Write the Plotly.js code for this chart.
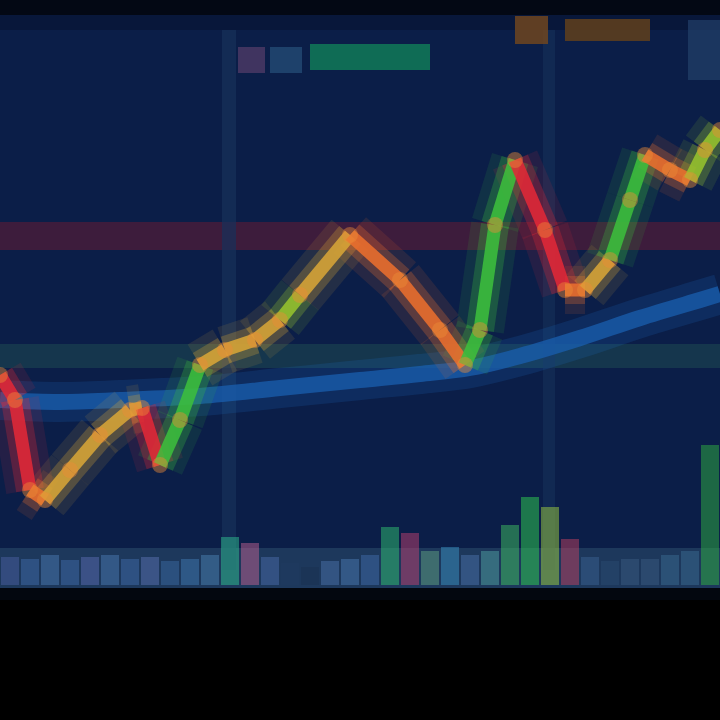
<!DOCTYPE html>
<html><head><meta charset="utf-8">
<script src="https://cdn.plot.ly/plotly-3.0.1.min.js"></script>
<style>html,body{margin:0;padding:0;background:#000;}#chart{width:720px;height:720px;}</style>
</head><body><div id="chart"></div>
<script>
// Price line (time index, price)
const priceT = [0,15,30,45,70,100,130,142,160,180,200,225,255,280,300,350,400,440,465,480,495,515,545,565,585,610,630,645,670,690,705,720];
const priceV = [345,320,230,220,250,285,310,312,255,300,355,370,380,400,425,485,440,390,355,390,495,560,490,430,430,460,520,565,550,540,570,590];
// Moving average
const maT = [0,60,120,200,280,360,420,470,520,580,640,700,720];
const maV = [320,318,320,324,332,340,346,352,364,382,402,420,426];
// Volume
const volT = [10,30,50,70,90,110,130,150,170,190,210,230,250,270,290,310,330,350,370,390,410,430,450,470,490,510,530,550,570,590,610,630,650,670,690,710];
const volV = [28,26,30,25,28,30,26,28,24,26,30,48,42,28,22,18,24,26,30,58,52,34,38,30,34,60,88,78,46,28,24,26,26,30,34,140];
const volC = ['#4a5ea0','#3f6aa8','#4a78b0','#3f6aa8','#5a6ab0','#4a78b0','#3f6aa8','#5a70b0','#3a68a0','#3f78b0','#4a80b0','#30c090','#c06090','#4a6aa8','#203a60','#1a3050','#4a70a8','#4a78b0','#3f6aa8','#30c070','#c04070','#60a080','#3a90c0','#4a70a8','#50a0a0','#40c060','#30d050','#a0d040','#c04060','#3a6090','#2a4a70','#3a5a80','#3a5a80','#3a6a90','#3a6a90','#30b040'];

const traces = [];
// volume bars
traces.push({type:'bar', x:volT, y:volV, base:135, width:18,
  marker:{color:volC, opacity:0.5, line:{width:0}}, hoverinfo:'skip', showlegend:false});
// moving average glow + core
traces.push({type:'scatter', mode:'lines', x:maT, y:maV, line:{color:'rgba(30,110,200,0.18)', width:40, shape:'spline'}, hoverinfo:'skip', showlegend:false});
traces.push({type:'scatter', mode:'lines', x:maT, y:maV, line:{color:'rgba(25,95,175,0.75)', width:16, shape:'spline'}, hoverinfo:'skip', showlegend:false});

function segColor(dx, dy, a){
  const s = dy/dx;
  if (s > 2) return 'rgba(60,190,60,'+a+')';
  if (s > 1.2) return 'rgba(150,195,45,'+a+')';
  if (s > 0) return 'rgba(215,165,55,'+a+')';
  if (s > -1.6) return 'rgba(235,110,45,'+a+')';
  return 'rgba(225,40,55,'+a+')';
}
const layers = [[48,0.12],[28,0.28],[13,0.88]];
for (const [w,a] of layers){
  for (let i=0;i<priceT.length-1;i++){
    const dx = priceT[i+1]-priceT[i], dy = priceV[i+1]-priceV[i];
    traces.push({type:'scatter', mode:'lines', x:[priceT[i],priceT[i+1]], y:[priceV[i],priceV[i+1]],
      line:{color:segColor(dx,dy,a), width:w}, hoverinfo:'skip', showlegend:false});
  }
}
// vertex blobs
traces.push({type:'scatter', mode:'markers', x:priceT, y:priceV,
  marker:{size:16, color:'rgba(235,140,55,0.45)', line:{width:0}}, hoverinfo:'skip', showlegend:false});

const shapes = [
  {type:'rect', xref:'x', yref:'y', x0:0, x1:720, y0:130, y1:705, fillcolor:'#0b1e48', line:{width:0}, layer:'below'},
  {type:'rect', xref:'x', yref:'y', x0:0, x1:720, y0:690, y1:706, fillcolor:'#08173a', line:{width:0}, layer:'below'},
  {type:'rect', xref:'x', yref:'y', x0:0, x1:720, y0:705, y1:720, fillcolor:'#030814', line:{width:0}, layer:'below'},
  {type:'rect', xref:'x', yref:'y', x0:0, x1:720, y0:130, y1:172, fillcolor:'#223f62', line:{width:0}, layer:'below', opacity:0.8},
  {type:'rect', xref:'x', yref:'y', x0:0, x1:720, y0:120, y1:132, fillcolor:'#03070f', line:{width:0}, layer:'below'},
  // horizontal bands
  {type:'rect', xref:'x', yref:'y', x0:0, x1:720, y0:470, y1:498, fillcolor:'#4a1c3a', line:{width:0}, layer:'below', opacity:0.8},
  {type:'rect', xref:'x', yref:'y', x0:0, x1:720, y0:352, y1:376, fillcolor:'#16384e', line:{width:0}, layer:'below', opacity:0.9},
  // vertical lines
  {type:'rect', xref:'x', yref:'y', x0:222, x1:236, y0:150, y1:690, fillcolor:'#17305a', line:{width:0}, layer:'below', opacity:0.7},
  {type:'rect', xref:'x', yref:'y', x0:543, x1:555, y0:150, y1:690, fillcolor:'#16305a', line:{width:0}, layer:'below', opacity:0.6},
  // top legend blobs
  {type:'rect', xref:'x', yref:'y', x0:238, x1:265, y0:647, y1:673, fillcolor:'#4e3a66', line:{width:0}, opacity:0.8},
  {type:'rect', xref:'x', yref:'y', x0:270, x1:302, y0:647, y1:673, fillcolor:'#27507a', line:{width:0}, opacity:0.7},
  {type:'rect', xref:'x', yref:'y', x0:310, x1:430, y0:650, y1:676, fillcolor:'#117a58', line:{width:0}, opacity:0.85},
  {type:'rect', xref:'x', yref:'y', x0:515, x1:548, y0:676, y1:704, fillcolor:'#6e4520', line:{width:0}, opacity:0.85},
  {type:'rect', xref:'x', yref:'y', x0:565, x1:650, y0:679, y1:701, fillcolor:'#60401c', line:{width:0}, opacity:0.85},
  {type:'rect', xref:'x', yref:'y', x0:688, x1:720, y0:640, y1:700, fillcolor:'#22406a', line:{width:0}, opacity:0.7}
];

Plotly.newPlot('chart', traces, {
  width:720, height:720,
  margin:{l:0,r:0,t:0,b:0,pad:0},
  paper_bgcolor:'#000000', plot_bgcolor:'#000000',
  xaxis:{range:[0,720], visible:false, fixedrange:true},
  yaxis:{range:[0,720], visible:false, fixedrange:true},
  shapes:shapes, showlegend:false, bargap:0
}, {staticPlot:true, displayModeBar:false});
</script></body></html>
